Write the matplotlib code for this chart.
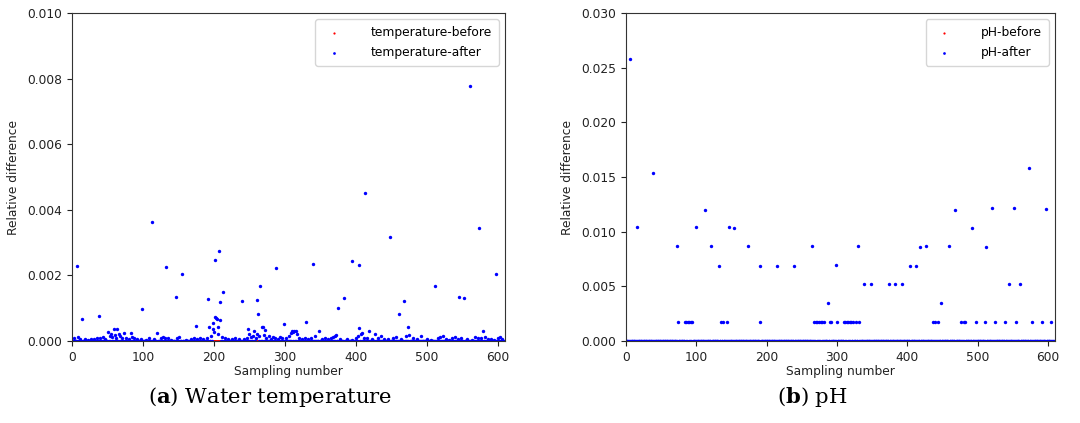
import numpy as np
import matplotlib
matplotlib.use("Agg")
import matplotlib.pyplot as plt

# ---------------- data ----------------
n_samples = 609
sampling = np.arange(n_samples)

# Water temperature: "after" relative differences (sampling number, value); all others are 0
temp_after_idx = [7, 14, 38, 99, 113, 132, 147, 155, 174, 191, 201, 207, 209, 213, 239, 260, 262,
                  265, 287, 298, 330, 340, 375, 383, 394, 404, 413, 448, 460, 468, 512, 545, 552,
                  561, 574, 598]
temp_after_val = [0.00230, 0.00068, 0.00076, 0.00098, 0.00362, 0.00227, 0.00134, 0.00205, 0.00046,
                  0.00128, 0.00246, 0.00274, 0.00120, 0.00150, 0.00123, 0.00126, 0.00082, 0.00169,
                  0.00222, 0.00052, 0.00057, 0.00235, 0.00100, 0.00131, 0.00243, 0.00232, 0.00452,
                  0.00317, 0.00082, 0.00123, 0.00169, 0.00134, 0.00131, 0.00777, 0.00343, 0.00203]
# small near-baseline values (x 1e-3)
temp_small_idx = [3, 9, 11, 18, 22, 27, 31, 35, 40, 44, 47, 51, 53, 55, 57, 59, 60, 62, 64, 66, 68,
                  70, 73, 76, 80, 83, 85, 88, 92, 97, 104, 108, 115, 120, 125, 128, 131, 135, 140,
                  148, 151, 160, 167, 172, 176, 180, 185, 190, 193, 196, 198, 199, 200, 202, 203,
                  204, 205, 206, 208, 211, 215, 220, 225, 230, 235, 242, 246, 248, 250, 252, 255,
                  257, 259, 261, 263, 267, 269, 271, 272, 274, 277, 280, 283, 286, 290, 293, 296,
                  302, 305, 308, 310, 311, 313, 315, 317, 320, 324, 328, 333, 336, 343, 348, 352,
                  356, 360, 365, 368, 370, 372, 378, 388, 395, 400, 403, 405, 407, 409, 411, 416,
                  419, 422, 427, 431, 435, 440, 445, 452, 456, 463, 470, 473, 475, 480, 486, 492,
                  500, 506, 515, 519, 522, 527, 531, 536, 540, 544, 548, 556, 564, 568, 572, 576,
                  579, 582, 586, 590, 595, 600, 603, 606]
temp_small_val = [0.08, 0.12, 0.05, 0.06, 0.04, 0.07, 0.05, 0.09, 0.10, 0.12, 0.06, 0.28, 0.15,
                  0.20, 0.12, 0.37, 0.18, 0.10, 0.37, 0.22, 0.14, 0.08, 0.23, 0.10, 0.06, 0.23,
                  0.12, 0.08, 0.05, 0.07, 0.04, 0.09, 0.05, 0.23, 0.10, 0.12, 0.08, 0.10, 0.04,
                  0.09, 0.11, 0.04, 0.06, 0.08, 0.06, 0.10, 0.05, 0.08, 0.42, 0.15, 0.37, 0.54,
                  0.26, 0.74, 0.70, 0.67, 0.42, 0.21, 0.64, 0.12, 0.08, 0.05, 0.06, 0.09, 0.05,
                  0.07, 0.10, 0.37, 0.21, 0.12, 0.15, 0.29, 0.10, 0.21, 0.16, 0.42, 0.44, 0.18,
                  0.34, 0.10, 0.16, 0.06, 0.12, 0.09, 0.05, 0.11, 0.08, 0.10, 0.15, 0.23, 0.30,
                  0.26, 0.29, 0.32, 0.20, 0.10, 0.06, 0.08, 0.05, 0.10, 0.14, 0.29, 0.06, 0.09,
                  0.05, 0.08, 0.12, 0.16, 0.18, 0.05, 0.06, 0.04, 0.09, 0.14, 0.39, 0.21, 0.25,
                  0.10, 0.08, 0.30, 0.06, 0.21, 0.08, 0.14, 0.05, 0.07, 0.09, 0.12, 0.06, 0.15,
                  0.42, 0.18, 0.08, 0.05, 0.16, 0.06, 0.04, 0.08, 0.12, 0.14, 0.06, 0.04, 0.10,
                  0.12, 0.07, 0.10, 0.06, 0.04, 0.12, 0.08, 0.10, 0.30, 0.13, 0.06, 0.05, 0.04,
                  0.09, 0.12, 0.06]

# pH: "after" relative differences (sampling number, value); all others are 0
ph_after_idx = [6, 15, 39, 73, 74, 84, 86, 88, 90, 92, 94, 99, 112, 121, 132, 135, 138, 143, 147,
                154, 174, 190, 191, 214, 239, 265, 267, 270, 272, 274, 277, 279, 282, 287, 290,
                292, 298, 300, 310, 312, 314, 316, 318, 320, 323, 327, 330, 331, 339, 348, 374,
                383, 393, 404, 412, 418, 427, 437, 440, 443, 448, 459, 468, 477, 480, 482, 492,
                497, 510, 512, 521, 525, 539, 544, 551, 555, 560, 573, 578, 592, 597, 605]
ph_after_val = [0.0258, 0.01046, 0.0154, 0.00865, 0.00172, 0.00172, 0.00172, 0.00172, 0.00172,
                0.00172, 0.00172, 0.01046, 0.0120, 0.00865, 0.0069, 0.00172, 0.00172, 0.00172,
                0.01046, 0.0103, 0.00865, 0.00172, 0.0069, 0.0069, 0.0069, 0.00865, 0.00172,
                0.00172, 0.00172, 0.00172, 0.00172, 0.00172, 0.00172, 0.00345, 0.00172, 0.00172,
                0.00697, 0.00172, 0.00172, 0.00172, 0.00172, 0.00172, 0.00172, 0.00172, 0.00172,
                0.00172, 0.00865, 0.00172, 0.00517, 0.00517, 0.00517, 0.00517, 0.00517, 0.00685,
                0.0069, 0.00856, 0.00865, 0.00172, 0.00172, 0.00172, 0.00345, 0.00865, 0.0120,
                0.00172, 0.00172, 0.00172, 0.01037, 0.00172, 0.00172, 0.00856, 0.01217, 0.00172,
                0.00172, 0.00517, 0.01217, 0.00172, 0.00517, 0.0158, 0.00172, 0.00172, 0.0121,
                0.00172]

before_val = [0.0] * n_samples

temp_labels = ["temperature-before", "temperature-after"]
ph_labels = ["pH-before", "pH-after"]
captions = [("a", " Water temperature"), ("b", " pH")]

# ---------------- build series ----------------
temp_after = np.zeros(n_samples)
temp_after[temp_small_idx] = np.array(temp_small_val) * 1e-3
temp_after[temp_after_idx] = temp_after_val
ph_after = np.zeros(n_samples)
ph_after[ph_after_idx] = ph_after_val

# ---------------- figure ----------------
plt.rcParams['font.family'] = ['DejaVu Sans']
plt.rcParams['mathtext.fontset'] = 'dejavuserif'
fig = plt.figure(figsize=(10.8, 4.23), dpi=100)

ax1 = fig.add_axes([72 / 1080, 1 - 341 / 423, (505 - 72) / 1080, (341 - 13) / 423])
ax2 = fig.add_axes([626 / 1080, 1 - 341 / 423, (1055 - 626) / 1080, (341 - 13) / 423])

spine_c = '#333333'
fs = 8.8
for ax, after, labels, ymax, yticks in [
        (ax1, temp_after, temp_labels, 0.010, np.arange(0, 0.0101, 0.002)),
        (ax2, ph_after, ph_labels, 0.030, np.arange(0, 0.0301, 0.005))]:
    ax.scatter(sampling, before_val, s=4, c='red', marker='o', linewidths=0, label=labels[0])
    ax.scatter(sampling, after, s=6, c='blue', marker='o', linewidths=0, label=labels[1])
    ax.set_xlim(0, 610)
    ax.set_ylim(0, ymax)
    ax.set_xticks([0, 100, 200, 300, 400, 500, 600])
    ax.set_yticks(yticks)
    ax.set_yticklabels([f"{v:.3f}" for v in yticks])
    ax.tick_params(labelsize=fs, colors='#222222', length=3.5)
    ax.set_xlabel("Sampling number", fontsize=fs, color='#222222', labelpad=1)
    ax.set_ylabel("Relative difference", fontsize=fs, color='#222222', labelpad=5)
    for sp in ax.spines.values():
        sp.set_color(spine_c)
    leg = ax.legend(loc='upper right', fontsize=fs, markerscale=0.8, scatterpoints=1,
                    handletextpad=2.0, borderpad=0.55, labelspacing=0.6, framealpha=0.8)
    leg.get_frame().set_edgecolor('#cccccc')

# captions
for (bold, rest), xc in zip(captions, [270, 812]):
    fig.text(xc / 1080, 1 - 397 / 423, "(" + r"$\mathbf{" + bold + "}$" + ")" + rest,
             ha='center', va='center', fontsize=15.2, family='DejaVu Serif')

fig.savefig("out.png", dpi=100)
